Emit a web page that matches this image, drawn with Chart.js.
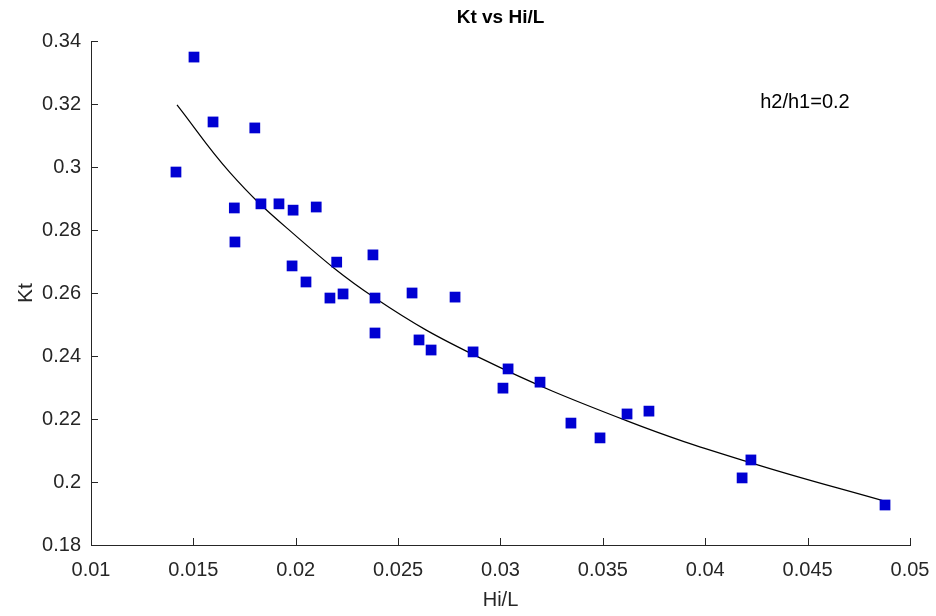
<!DOCTYPE html>
<html>
<head>
<meta charset="utf-8">
<script src="https://cdn.jsdelivr.net/npm/chart.js@4.4.1/dist/chart.umd.min.js"></script>
<style>
  html, body { margin: 0; padding: 0; background: #ffffff; }
  #wrap { width: 936px; height: 616px; }
</style>
</head>
<body>
<div id="wrap"><canvas id="c" width="936" height="616"></canvas></div>
<script>
// Measured data (Hi/L, Kt)
const hiL = [0.01415,0.01503,0.01596,0.0180,0.0170,0.01703,0.0183,0.01918,0.01987,0.0210,0.01982,0.0205,0.0220,0.02167,0.02231,0.02377,0.02387,0.02387,0.02568,0.02778,0.02602,0.02661,0.02866,0.03037,0.03012,0.03193,0.03344,0.03486,0.03618,0.03725,0.0418,0.04223,0.04878];
const kt  = [0.2984,0.3349,0.3143,0.3124,0.2870,0.2762,0.2883,0.2883,0.2863,0.2873,0.2686,0.2635,0.2698,0.2584,0.2597,0.2721,0.2584,0.2473,0.2600,0.2587,0.2451,0.2419,0.2413,0.2359,0.2298,0.2317,0.2187,0.2140,0.2216,0.2225,0.2013,0.2070,0.1927];

// Fitted curve
const fitX  = [0.01420,0.01679,0.01957,0.02387,0.0290,0.03618,0.04228,0.04888];
const fitKt = [0.3197,0.2982,0.2806,0.2584,0.2394,0.2194,0.2060,0.1937];

// Axis ticks
const xTicks = [0.01,0.015,0.02,0.025,0.03,0.035,0.04,0.045,0.05];
const xTickLabels = ['0.01','0.015','0.02','0.025','0.03','0.035','0.04','0.045','0.05'];
const yTicks = [0.18,0.2,0.22,0.24,0.26,0.28,0.3,0.32,0.34];
const yTickLabels = ['0.18','0.2','0.22','0.24','0.26','0.28','0.3','0.32','0.34'];

const titleText = 'Kt vs Hi/L';
const xTitle = 'Hi/L';
const yTitle = 'Kt';
const noteText = 'h2/h1=0.2';

const AX = '#262626';
const FONT = "'Liberation Sans', Arial, Helvetica, sans-serif";

function labelFor(ticks, labels, v) {
  for (let i = 0; i < ticks.length; i++) if (Math.abs(ticks[i] - v) < 1e-9) return labels[i];
  return '';
}

const decorations = {
  id: 'decorations',
  afterDraw(chart) {
    const ctx = chart.ctx;
    const a = chart.chartArea;
    const xs = chart.scales.x, ys = chart.scales.y;
    ctx.save();
    // inward tick marks
    ctx.strokeStyle = AX;
    ctx.lineWidth = 1;
    ctx.beginPath();
    xs.ticks.forEach(t => {
      const px = Math.round(xs.getPixelForValue(t.value)) + 0.5;
      ctx.moveTo(px, a.bottom);
      ctx.lineTo(px, a.bottom - 7);
    });
    ys.ticks.forEach(t => {
      const py = Math.round(ys.getPixelForValue(t.value)) + 0.5;
      ctx.moveTo(a.left, py);
      ctx.lineTo(a.left + 7, py);
    });
    ctx.stroke();
    // title centred over the axes
    ctx.fillStyle = '#000000';
    ctx.textAlign = 'center';
    ctx.textBaseline = 'middle';
    ctx.font = 'bold 19px ' + FONT;
    ctx.fillText(titleText, (a.left + a.right) / 2, 18);
    // annotation text
    ctx.font = '20px ' + FONT;
    ctx.fillText(noteText, xs.getPixelForValue(0.04487), ys.getPixelForValue(0.3204));
    ctx.restore();
  }
};

new Chart(document.getElementById('c'), {
  type: 'scatter',
  data: {
    datasets: [
      {
        label: 'Kt',
        data: hiL.map((x, i) => ({ x: x, y: kt[i] })),
        pointStyle: 'rect',
        pointRadius: 7.6,
        pointHoverRadius: 7.6,
        backgroundColor: '#0000d2',
        borderColor: '#0000d2',
        borderWidth: 0,
        showLine: false
      },
      {
        label: 'fit',
        type: 'line',
        data: fitX.map((x, i) => ({ x: x, y: fitKt[i] })),
        borderColor: '#000000',
        borderWidth: 1.2,
        pointRadius: 0,
        fill: false,
        tension: 0.4,
        showLine: true
      }
    ]
  },
  options: {
    responsive: false,
    animation: false,
    devicePixelRatio: 1,
    layout: { padding: { left: 0, right: 26, top: 41, bottom: 0 } },
    plugins: {
      legend: { display: false },
      tooltip: { enabled: false },
      title: { display: false }
    },
    scales: {
      x: {
        type: 'linear',
        min: 0.01,
        max: 0.05,
        afterBuildTicks(s) { s.ticks = xTicks.map(v => ({ value: v })); },
        afterFit(s) { s.height = 71; s.paddingLeft = 0; s.paddingRight = 0; },
        grid: { display: false, drawTicks: false },
        border: { display: true, color: AX, width: 1 },
        ticks: {
          color: AX,
          font: { family: FONT, size: 20 },
          padding: 13,
          maxRotation: 0,
          autoSkip: false,
          callback: v => labelFor(xTicks, xTickLabels, v)
        },
        title: {
          display: true,
          text: xTitle,
          color: AX,
          font: { family: FONT, size: 20 },
          padding: { top: 0, bottom: 4 }
        }
      },
      y: {
        type: 'linear',
        min: 0.18,
        max: 0.34,
        afterBuildTicks(s) { s.ticks = yTicks.map(v => ({ value: v })); },
        afterFit(s) { s.width = 91; s.paddingTop = 0; s.paddingBottom = 0; },
        grid: { display: false, drawTicks: false },
        border: { display: true, color: AX, width: 1 },
        ticks: {
          color: AX,
          font: { family: FONT, size: 20 },
          padding: 10,
          autoSkip: false,
          callback: v => labelFor(yTicks, yTickLabels, v)
        },
        title: {
          display: true,
          text: yTitle,
          color: AX,
          font: { family: FONT, size: 21 },
          padding: { top: 14, bottom: 0 }
        }
      }
    }
  },
  plugins: [decorations]
});
</script>
</body>
</html>
